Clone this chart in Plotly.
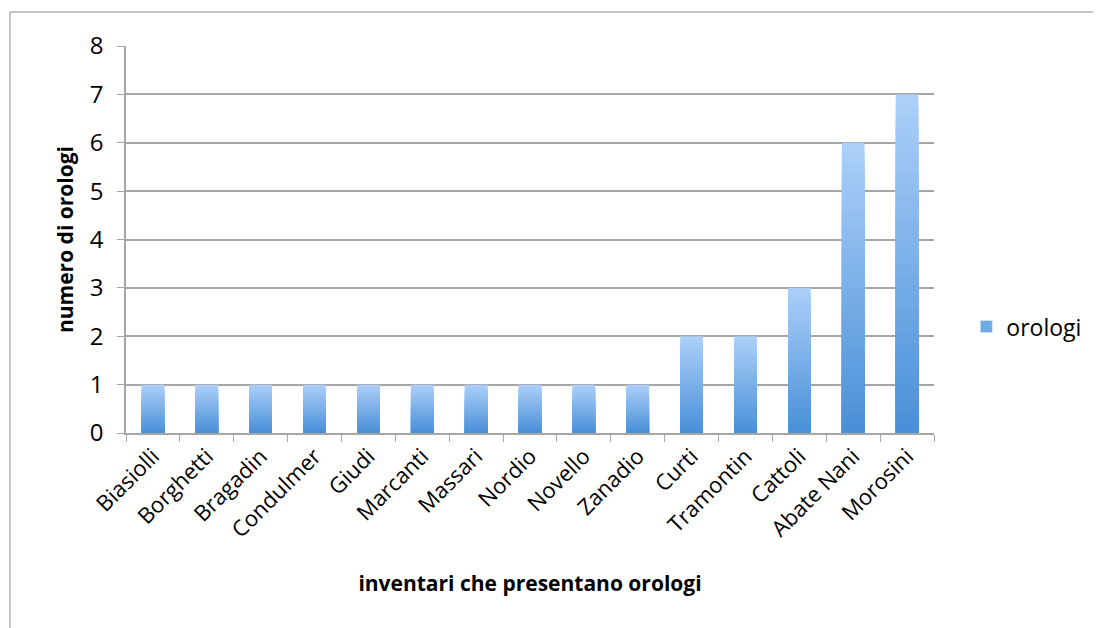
import plotly.graph_objects as go

# dati
inventari = ["Biasiolli", "Borghetti", "Bragadin", "Condulmer", "Giudi", "Marcanti",
             "Massari", "Nordio", "Novello", "Zanadio", "Curti", "Tramontin",
             "Cattoli", "Abate Nani", "Morosini"]
orologi = [1, 1, 1, 1, 1, 1, 1, 1, 1, 1, 2, 2, 3, 6, 7]

FONT = "Open Sans"
LIGHT = (171, 207, 248)
DARK = (74, 144, 216)
N_LAYERS = 30


def mix(t):
    r, g, b = [round(LIGHT[i] + (DARK[i] - LIGHT[i]) * t) for i in range(3)]
    return f"rgb({r},{g},{b})"


fig = go.Figure()

# sfumatura verticale: barre sovrapposte sempre più corte e più scure
for k in range(N_LAYERS):
    frac = 1 - k / N_LAYERS
    fig.add_trace(go.Bar(
        x=inventari,
        y=[v * frac for v in orologi],
        marker=dict(color=mix(k / (N_LAYERS - 1)), line=dict(width=0)),
        width=0.42,
        name="orologi",
        showlegend=False,
        hoverinfo="skip",
    ))

# traccia invisibile per l'hover, più una per la legenda
fig.add_trace(go.Bar(
    x=inventari,
    y=orologi,
    marker=dict(color="rgba(0,0,0,0)", line=dict(width=0)),
    width=0.42,
    name="orologi",
    showlegend=False,
    hovertemplate="%{x}: %{y}<extra></extra>",
))
fig.add_trace(go.Bar(
    x=[None], y=[None],
    marker=dict(color=mix(0.6)),
    name="orologi",
    showlegend=True,
))

# la pagina ha un margine di 8px: la figura parte da (8, 8)
fig.update_layout(
    width=1093,
    height=620,
    barmode="overlay",
    plot_bgcolor="white",
    paper_bgcolor="white",
    font=dict(family=FONT, color="#000000"),
    margin=dict(l=118, r=167, t=38, b=195),
    legend=dict(
        x=1.04, y=0.275, xanchor="left", yanchor="middle",
        font=dict(size=23, family=FONT),
        itemwidth=30,
    ),
    shapes=[
        dict(type="line", xref="paper", yref="paper",
             x0=-0.1436, x1=1.25, y0=1.0879, y1=1.0879,
             line=dict(color="#b3b3b3", width=1.5)),
        dict(type="line", xref="paper", yref="paper",
             x0=-0.1436, x1=-0.1436, y0=1.0879, y1=-0.6,
             line=dict(color="#b3b3b3", width=1.5)),
    ],
)

fig.update_yaxes(
    range=[0, 8],
    dtick=1,
    showgrid=True,
    gridcolor="#a6a6a6",
    gridwidth=1.5,
    zeroline=False,
    showline=True,
    linecolor="#a6a6a6",
    linewidth=1.5,
    ticks="outside",
    ticklen=7,
    tickcolor="#a6a6a6",
    ticklabelstandoff=9,
    tickfont=dict(size=24, family=FONT),
    title=dict(text="<b>numero di orologi</b>", font=dict(size=21, family=FONT), standoff=10),
    fixedrange=True,
)

fig.update_xaxes(
    showline=True,
    linecolor="#a6a6a6",
    linewidth=1.5,
    ticks="outside",
    tickson="boundaries",
    ticklen=7,
    tickcolor="#a6a6a6",
    tickangle=-45,
    tickfont=dict(size=22, family=FONT),
    title=dict(text="<b>inventari che presentano orologi</b>", font=dict(size=21, family=FONT), standoff=34),
    fixedrange=True,
)

fig.write_html("out.html")
